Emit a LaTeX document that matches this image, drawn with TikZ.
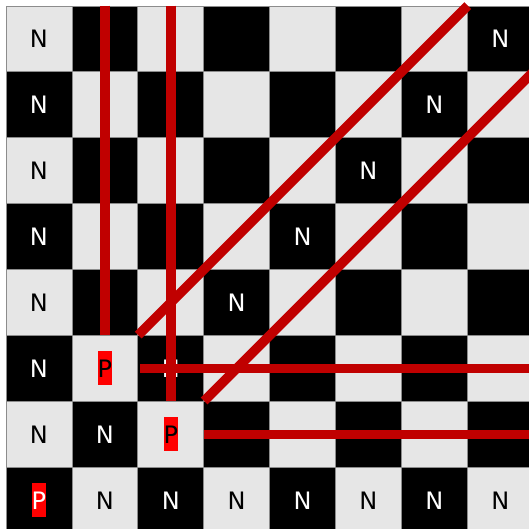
\documentclass[tikz,border=0pt]{standalone}
\usepackage{fontspec}
\setmainfont{DejaVu Sans}
\definecolor{lightcell}{RGB}{230,230,230}
\definecolor{linered}{RGB}{192,0,0}
\definecolor{pred}{RGB}{255,0,0}
\definecolor{cellborder}{RGB}{140,140,140}
\begin{document}
\begin{tikzpicture}[x=1pt,y=-1pt,
  cellbox/.style={minimum size=65.9pt, inner sep=0pt, draw=cellborder, line width=0.8pt, anchor=center},
  lightc/.style={cellbox, fill=lightcell},
  darkc/.style={cellbox, fill=black},
  lab/.style={font=\fontsize{24}{28}\selectfont, inner sep=0pt},
  pbox/.style={lab, fill=pred, inner xsep=0pt, inner ysep=0pt, minimum height=34pt},
  redline/.style={draw=linered, line width=9.5pt, line cap=butt}
]
\useasboundingbox (0,0) rectangle (529,529);
\fill[white] (0,0) rectangle (529,529);
\begin{scope}
\clip (0,0) rectangle (529,529);
\foreach \r in {0,...,7} {
  \foreach \c in {0,...,7} {
    \pgfmathtruncatemacro\cellpar{mod(\r+\c,2)}
    \ifnum\cellpar=0
      \node[lightc] (cell-\r-\c) at ({6+65.9*\c+32.95},{6+65.9*\r+32.95}) {};
    \else
      \node[darkc] (cell-\r-\c) at ({6+65.9*\c+32.95},{6+65.9*\r+32.95}) {};
    \fi
  }
}
\foreach \r/\c in {0/0,1/0,2/0,3/0,4/0,5/0,6/0,
                   7/1,7/2,7/3,7/4,7/5,7/6,7/7,
                   0/7,1/6,2/5,3/4,4/3,5/2,6/1} {
  \pgfmathtruncatemacro\cellpar{mod(\r+\c,2)}
  \ifnum\cellpar=0 \def\tcol{black}\else\def\tcol{white}\fi
  \node[lab, text=\tcol] (n-\r-\c) at (cell-\r-\c) {N};
}
\node[pbox, text=black] (p-5-1) at (cell-5-1) {P};
\node[pbox, text=black] (p-6-2) at (cell-6-2) {P};
\node[pbox, text=white] (p-7-0) at (cell-7-0) {P};
\draw[redline] (cell-0-1.north) -- (cell-5-1.north);
\draw[redline] (cell-0-2.north) -- (cell-6-2.north);
\draw[redline] ([xshift=2pt]cell-5-1.east) -- (cell-5-7.east);
\draw[redline] (cell-6-2.east) -- (cell-6-7.east);
\draw[redline] (cell-5-1.north east) -- (cell-0-6.north east);
\draw[redline] (cell-6-2.north east) -- (cell-1-7.north east);
\end{scope}
\end{tikzpicture}
\end{document}
